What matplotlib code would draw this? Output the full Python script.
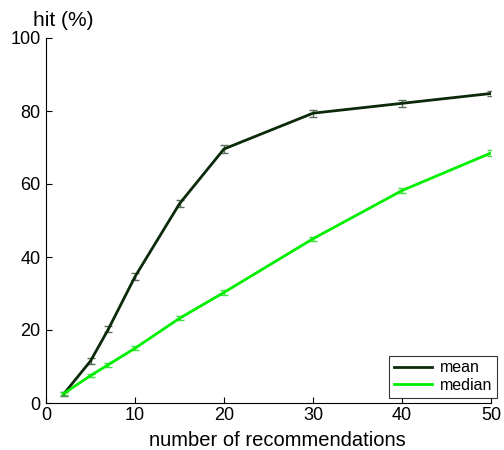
import matplotlib
matplotlib.use('Agg')
import matplotlib.pyplot as plt
from matplotlib.lines import Line2D

plt.rcParams['font.family'] = ['Liberation Sans', 'DejaVu Sans']

k = [2, 5, 7, 10, 15, 20, 30, 40, 50]
mean_hit = [2.5, 11.5, 20.2, 34.6, 54.6, 69.6, 79.4, 82.1, 84.8]
mean_err = [0.6, 0.7, 0.8, 0.9, 0.9, 1.1, 1.0, 0.9, 0.8]
median_hit = [2.6, 7.5, 10.5, 15.0, 23.2, 30.3, 45.0, 58.2, 68.5]
median_err = [0.5, 0.5, 0.5, 0.5, 0.5, 0.6, 0.6, 0.7, 0.8]

mean_col = '#0a2a0a'
median_col = '#00ee00'

fig = plt.figure(figsize=(5.04, 4.5), dpi=100)
ax = fig.add_axes([46/504, 1 - 403/450, 445/504, 365/450])

ax.errorbar(k, mean_hit, yerr=mean_err, color=mean_col, lw=2,
            ecolor='#5a6e5a', elinewidth=1, capsize=3)
ax.errorbar(k, median_hit, yerr=median_err, color=median_col, lw=2,
            ecolor='#40e040', elinewidth=1, capsize=3)

ax.set_xlim(0, 50)
ax.set_ylim(0, 100)
ax.set_xticks([0, 10, 20, 30, 40, 50])
ax.set_yticks([0, 20, 40, 60, 80, 100])
ax.spines['top'].set_visible(False)
ax.spines['right'].set_visible(False)
ax.tick_params(direction='in', length=4, labelsize=13)
ax.tick_params(axis='x', pad=3)
ax.tick_params(axis='y', pad=4)
fig.text(277/504, 1 - 446/450, 'number of recommendations', fontsize=14.5,
         va='baseline', ha='center')
fig.text(63/504, 1 - 20/450, 'hit (%)', fontsize=15, va='center', ha='center')

handles = [Line2D([], [], color=mean_col, lw=2),
           Line2D([], [], color=median_col, lw=2)]
leg = ax.legend(handles, ['mean', 'median'], loc='lower right',
                bbox_to_anchor=(1.014, 0.015), fontsize=11.5,
                frameon=True, fancybox=False, edgecolor='black',
                handlelength=2.4, handletextpad=0.5, borderpad=0.3,
                labelspacing=0.15, borderaxespad=0)
leg.get_frame().set_linewidth(0.8)

fig.savefig('out.png', dpi=100)
